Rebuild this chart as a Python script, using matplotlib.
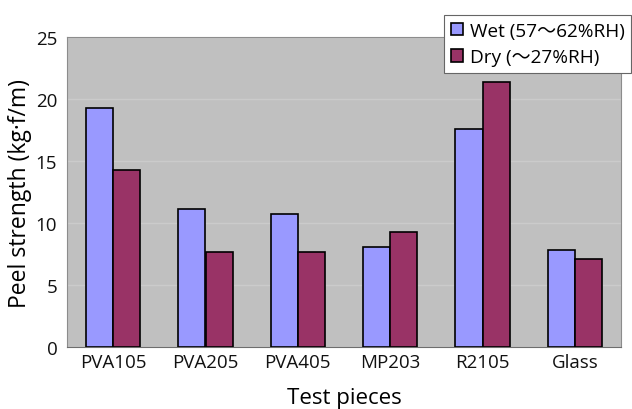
import numpy as np
import matplotlib.pyplot as plt

plt.rcParams['font.family'] = ['Open Sans', 'Noto Sans CJK JP', 'DejaVu Sans']

pieces = ["PVA105", "PVA205", "PVA405", "MP203", "R2105", "Glass"]
wet = [19.3, 11.1, 10.7, 8.1, 17.6, 7.8]
dry = [14.3, 7.7, 7.7, 9.3, 21.4, 7.1]
yticks = [0, 5, 10, 15, 20, 25]

fig = plt.figure(figsize=(6.32, 4.10), dpi=100)
ax = fig.add_axes([67 / 632, 1 - 348 / 410, 554 / 632, 310 / 410])
ax.set_facecolor("#c0c0c0")

x = np.arange(len(pieces))
w = 0.295
ax.bar(x - w / 2, wet, w, color="#9999ff", edgecolor="black", linewidth=1.2,
       label="Wet (57〜62%RH)", zorder=3)
ax.bar(x + w / 2, dry, w, color="#993366", edgecolor="black", linewidth=1.2,
       label="Dry (〜27%RH)", zorder=3)

ax.set_xlim(-0.5, len(pieces) - 0.5)
ax.set_ylim(0, 25)
ax.set_yticks(yticks)
ax.set_xticks(x)
ax.set_xticklabels(pieces)
ax.tick_params(axis="both", length=0, labelsize=13.5, colors="#111111")
ax.tick_params(axis="x", pad=4)
ax.tick_params(axis="y", pad=7)
ax.grid(axis="y", color="#cbcbcb", linewidth=1, zorder=1)

for side in ["top", "right", "left"]:
    ax.spines[side].set_color("#8c8c8c")
ax.spines["bottom"].set_color("#6e6e6e")

ax.set_ylabel("Peel strength (kg·f/m)", fontsize=16.5, labelpad=3)
ax.set_xlabel("Test pieces", fontsize=16, labelpad=12)

leg = fig.legend(loc="upper left", bbox_to_anchor=(444 / 632, 1 - 16 / 410),
                 fontsize=13.7, frameon=True, fancybox=False, framealpha=1,
                 edgecolor="#666666", handlelength=0.65, handleheight=0.65,
                 handletextpad=0.35, borderpad=0.35, labelspacing=0.45,
                 borderaxespad=0)
leg.get_frame().set_linewidth(0.8)

fig.savefig("out.png", dpi=100, facecolor="white")
